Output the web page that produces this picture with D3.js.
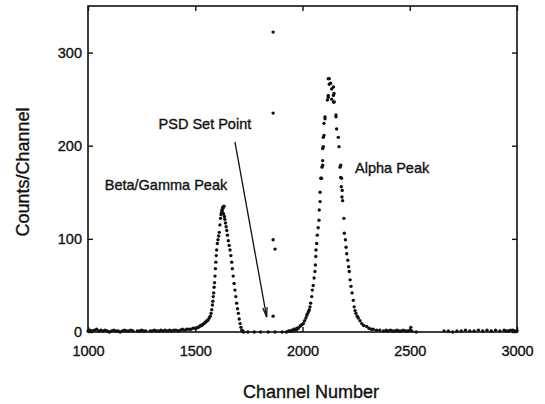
<!DOCTYPE html>
<html>
<head>
<script src="https://d3js.org/d3.v7.min.js"></script>
<style>
body { margin: 0; background: #fff; }
text { font-family: "Liberation Sans", Arial, sans-serif; fill: #111; stroke: #111; stroke-width: 0.35px; }
.axis path, .axis line { stroke: #111; stroke-width: 1.4; }
.axis text { font-size: 14.5px; }
</style>
</head>
<body>
<script>
// [channel, counts]
var baselineLeft = [
  [1000,1],[1010,2],[1020,1],[1030,2],[1040,3],[1050,1],[1060,2],[1070,1],[1080,2],[1090,1],
  [1100,0],[1110,1],[1120,2],[1130,1],[1140,1],[1150,0],[1160,1],[1170,2],[1180,1],[1190,1],
  [1200,2],[1210,1],[1230,1],[1240,1],[1250,2],[1260,1],[1270,1],[1290,1],[1300,1],
  [1310,2],[1320,1],[1330,1],[1340,2],[1350,1],[1360,2],[1370,1],[1380,2],[1390,1],[1400,2],
  [1410,2],[1420,1],[1430,2],[1440,3],[1450,2],[1460,3],[1470,3],[1480,3],[1490,4]
];
var betaGammaPeak = [
  [1500,4],[1505,4],[1510,5],[1515,5],[1520,6],[1525,7],[1530,7],[1535,8],[1540,9],[1545,10],
  [1550,11],[1555,12],[1560,13],[1565,15],[1570,17],[1574,20],[1577,24],[1580,29],[1582,33],
  [1584,38],[1586,42],[1588,48],[1590,53],[1592,60],[1594,68],[1596,75],[1598,82],[1600,88],
  [1603,95],[1606,99],[1609,103],[1612,107],[1615,115],[1618,122],[1620,126],[1622,128],
  [1624,131],[1626,130],[1628,134],[1630,133],[1632,127],[1634,135],[1636,124],[1638,121],
  [1641,117],[1644,113],[1647,109],[1650,104],[1654,98],[1658,93],[1662,88],[1666,82],
  [1670,75],[1673,68],[1677,60],[1681,52],[1685,45],[1689,38],[1693,31],[1697,25],[1701,20],
  [1705,14],[1709,9],[1713,5],[1717,2],[1721,1],[1725,0]
];
var valley = [[1745,0],[1775,0],[1805,0],[1840,0],[1905,0],[1925,0]];
var psdPoints = [[1863,322],[1863,235],[1863,99],[1872,89],[1863,17],[1872,0]];
var alphaPeak = [
  [1935,1],[1942,1],[1950,2],[1955,1],[1960,3],[1965,3],[1970,2],[1975,4],[1980,4],[1988,6],
  [1992,7],[1998,8],[2004,9],[2010,12],[2016,15],[2020,18],[2024,20],[2028,22],[2032,24],
  [2035,27],[2038,31],[2043,38],[2046,45],[2050,50],[2054,58],[2058,65],[2060,72],[2062,81],
  [2063,88],[2066,95],[2069,104],[2073,112],[2077,120],[2078,131],[2082,140],[2082,150],
  [2085,165],[2089,165],[2091,177],[2094,184],[2094,179],[2094,197],[2097,199],[2097,209],
  [2100,211],[2100,224],[2105,229],[2105,231],[2116,249],[2120,252],[2120,254],[2120,272],
  [2125,266],[2125,272],[2131,267],[2136,250],[2136,261],[2144,263],[2144,254],[2144,247],
  [2147,256],[2148,247],[2156,231],[2156,233],[2159,218],[2167,209],[2170,199],[2175,177],
  [2178,179],[2178,166],[2181,156],[2182,165],[2184,145],[2185,152],[2187,141],[2193,122],
  [2195,106],[2200,99],[2203,91],[2206,84],[2211,77],[2215,70],[2218,65],[2222,56],[2226,49],
  [2231,42],[2237,34],[2241,27],[2245,23],[2249,20],[2255,17],[2260,15],[2268,12],[2276,9],
  [2285,7],[2299,6],[2310,4],[2320,3],[2330,3],[2345,2],[2360,2],[2377,1]
];
var baselineRight = [
  [2390,2],[2400,1],[2410,2],[2420,1],[2430,1],[2440,2],[2450,1],[2460,1],[2470,2],[2480,1],
  [2490,1],[2500,2],[2505,5],[2510,1],[2530,0],[2660,1],[2680,1],[2700,0],[2720,1],[2740,1],
  [2760,2],[2780,1],[2800,1],[2820,2],[2840,1],[2860,2],[2880,1],[2900,2],[2920,1],[2940,2],
  [2950,1],[2960,1],[2970,2],[2980,2],[2990,1],[3000,1]
];
var xTicks = [1000, 1500, 2000, 2500, 3000];
var yTicks = [0, 100, 200, 300];
var labels = [
  {text: "PSD Set Point", x: 1545, y: 218, anchor: "middle"},
  {text: "Beta/Gamma Peak", x: 1078, y: 152, anchor: "start"},
  {text: "Alpha Peak", x: 2245, y: 171, anchor: "start"}
];
var arrowFrom = [1685, 204], arrowTo = [1833, 16];

var margin = {top: 6, right: 28, bottom: 72, left: 88},
    width = 545 - margin.left - margin.right,
    height = 404 - margin.top - margin.bottom;

var svg = d3.select("body").append("svg")
    .attr("width", 545)
    .attr("height", 404)
  .append("g")
    .attr("transform", "translate(" + margin.left + "," + margin.top + ")");

var xScale = d3.scaleLinear().domain([1000, 3000]).range([0, width]);
var yScale = d3.scaleLinear().domain([0, 350]).range([height, 0]);

// bottom / left axes with labels, ticks pointing inward
svg.append("g")
    .attr("class", "axis")
    .attr("transform", "translate(0," + height + ")")
    .call(d3.axisBottom(xScale).tickValues(xTicks).tickSizeInner(-5).tickSizeOuter(0).tickPadding(14).tickFormat(d3.format("d")));
svg.append("g")
    .attr("class", "axis")
    .call(d3.axisLeft(yScale).tickValues(yTicks).tickSizeInner(-5).tickSizeOuter(0).tickPadding(6).tickFormat(d3.format("d")));
svg.append("g")
    .attr("class", "axis")
    .call(d3.axisTop(xScale).tickValues(xTicks).tickSizeInner(-5).tickSizeOuter(0).tickFormat(""));
svg.append("g")
    .attr("class", "axis")
    .attr("transform", "translate(" + width + ",0)")
    .call(d3.axisRight(yScale).tickValues(yTicks).tickSizeInner(-5).tickSizeOuter(0).tickFormat(""));

svg.selectAll(".axis .domain").remove();
svg.append("rect")
    .attr("width", width)
    .attr("height", height)
    .attr("fill", "none")
    .attr("stroke", "#111")
    .attr("stroke-width", 1.6);

var allPoints = [].concat(baselineLeft, betaGammaPeak, valley, psdPoints, alphaPeak, baselineRight);

svg.selectAll(".dot")
    .data(allPoints)
  .enter().append("circle")
    .attr("class", "dot")
    .attr("r", 1.7)
    .attr("cx", function(d) { return xScale(d[0]); })
    .attr("cy", function(d) { return yScale(d[1]); })
    .style("fill", "#111");

// annotations
svg.selectAll(".note")
    .data(labels)
  .enter().append("text")
    .attr("class", "note")
    .attr("x", function(d) { return xScale(d.x); })
    .attr("y", function(d) { return yScale(d.y); })
    .attr("text-anchor", function(d) { return d.anchor; })
    .style("font-size", "14.5px")
    .text(function(d) { return d.text; });

var ax1 = xScale(arrowFrom[0]), ay1 = yScale(arrowFrom[1]),
    ax2 = xScale(arrowTo[0]), ay2 = yScale(arrowTo[1]);
svg.append("line")
    .attr("x1", ax1).attr("y1", ay1)
    .attr("x2", ax2).attr("y2", ay2)
    .attr("stroke", "#111")
    .attr("stroke-width", 1.3);
var ang = Math.atan2(ay2 - ay1, ax2 - ax1);
var head = [[ax2, ay2],
  [ax2 - 10 * Math.cos(ang - 0.22), ay2 - 10 * Math.sin(ang - 0.22)],
  [ax2 - 10 * Math.cos(ang + 0.22), ay2 - 10 * Math.sin(ang + 0.22)]];
svg.append("path")
    .attr("d", "M" + head[1] + "L" + head[0] + "L" + head[2])
    .attr("fill", "none")
    .attr("stroke", "#111")
    .attr("stroke-width", 1.3);

// axis titles
svg.append("text")
    .attr("x", 223)
    .attr("y", height + 66)
    .attr("text-anchor", "middle")
    .style("font-size", "18px")
    .text("Channel Number");
svg.append("text")
    .attr("transform", "translate(-59," + (height / 2 + 3) + ") rotate(-90)")
    .attr("text-anchor", "middle")
    .style("font-size", "18px")
    .text("Counts/Channel");
</script>
</body>
</html>
